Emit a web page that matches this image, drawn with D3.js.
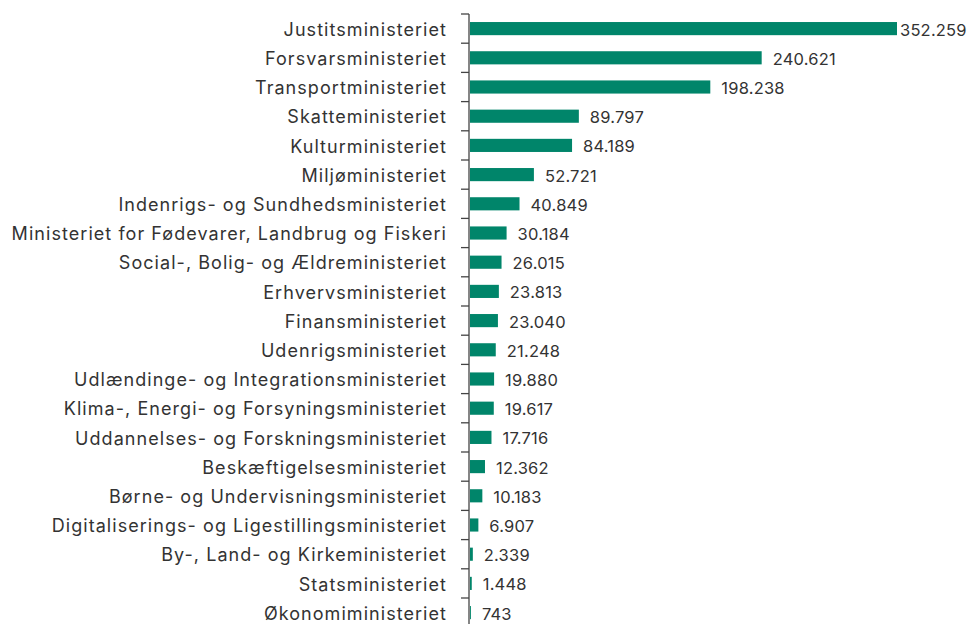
<!DOCTYPE html>
<html>
<head>
<meta charset="utf-8">
<script src="https://cdn.jsdelivr.net/npm/d3@7"></script>
<style>
body{margin:0;background:#fff;}
svg{display:block;font-family:Inter,"Noto Sans",sans-serif;}
</style>
</head>
<body>
<svg></svg>
<script>
var ministries=["Justitsministeriet","Forsvarsministeriet","Transportministeriet","Skatteministeriet",
"Kulturministeriet","Miljøministeriet","Indenrigs- og Sundhedsministeriet",
"Ministeriet for Fødevarer, Landbrug og Fiskeri","Social-, Bolig- og Ældreministeriet",
"Erhvervsministeriet","Finansministeriet","Udenrigsministeriet",
"Udlændinge- og Integrationsministeriet","Klima-, Energi- og Forsyningsministeriet",
"Uddannelses- og Forskningsministeriet","Beskæftigelsesministeriet",
"Børne- og Undervisningsministeriet","Digitaliserings- og Ligestillingsministeriet",
"By-, Land- og Kirkeministeriet","Statsministeriet","Økonomiministeriet"]
var amounts=[352259,240621,198238,89797,84189,52721,40849,30184,26015,23813,23040,21248,19880,19617,17716,12362,10183,6907,2339,1448,743]

var screen={width:968,height:624}
var margins={top:14,left:469}

var svg=d3.select("svg")
    .attr("width",screen.width)
    .attr("height",screen.height)

var locale=d3.formatLocale({decimal:",",thousands:".",grouping:[3],currency:["","kr"]})
var fmt=locale.format(",d")

var xScale=d3.scaleLinear()
    .domain([0,352259])
    .range([0,427])

var yScale=d3.scaleBand()
    .domain(ministries)
    .range([margins.top,margins.top+21*29.2])
    .paddingInner(0.55)
    .paddingOuter(0.275)

var step=yScale.step()

var g=svg.append("g").attr("transform","translate("+margins.left+",0)")

// labels via axis
var yAxis=d3.axisLeft(yScale).tickSize(0).tickPadding(22)
g.append("g").attr("class","yaxis").call(yAxis)
g.select(".yaxis .domain").remove()
g.selectAll(".yaxis text")
    .attr("fill","#333")
    .attr("dy","0.4em")
    .style("font-size","18px")
    .style("letter-spacing","1.05px")
    .style("font-family","Inter,'Noto Sans',sans-serif")

// axis line and boundary ticks
g.append("line")
    .attr("x1",0).attr("x2",0)
    .attr("y1",margins.top).attr("y2",margins.top+21*step)
    .attr("stroke","#444").attr("stroke-width",1.3)

g.selectAll(".bound")
    .data(ministries.concat(["end"]))
    .enter()
    .append("line")
    .attr("x1",-8).attr("x2",0)
    .attr("y1",function(d,i){return margins.top+i*step})
    .attr("y2",function(d,i){return margins.top+i*step})
    .attr("stroke","#444").attr("stroke-width",1.3)

g.selectAll("rect")
    .data(amounts)
    .enter()
    .append("rect")
    .attr("x",1)
    .attr("y",function(d,i){return yScale(ministries[i])})
    .attr("height",yScale.bandwidth())
    .attr("width",function(d){return xScale(d)})
    .attr("fill","#00856a")

var maxX=screen.width-margins.left-2

g.selectAll(".val")
    .data(amounts)
    .enter()
    .append("text")
    .attr("class","val")
    .attr("x",function(d){return xScale(d)+12})
    .attr("y",function(d,i){return yScale(ministries[i])+yScale.bandwidth()/2})
    .attr("dy","0.42em")
    .attr("fill","#333")
    .style("font-size","16.5px")
    .style("letter-spacing","0.2px")
    .text(function(d){return fmt(d)})
    .each(function(d){
        // labels that would run off the edge sit closer to the bar
        var w=this.getComputedTextLength()
        if(xScale(d)+12+w>maxX){
            d3.select(this).attr("x",xScale(d)+4)
        }
    })
</script>
</body>
</html>
